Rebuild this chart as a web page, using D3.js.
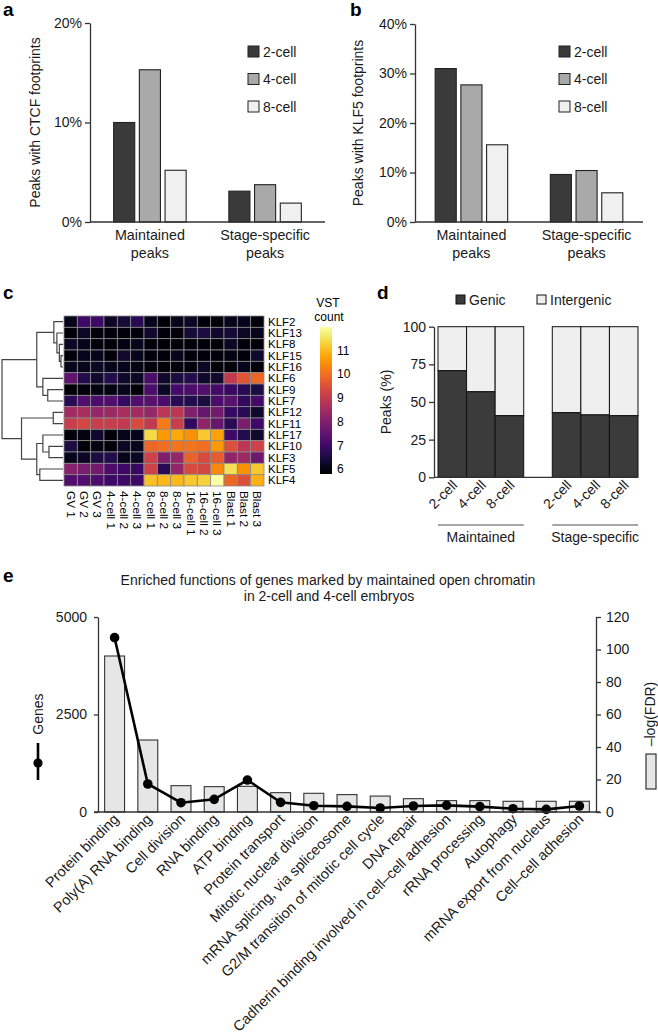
<!DOCTYPE html>
<html><head><meta charset="utf-8">
<script src="https://cdn.jsdelivr.net/npm/d3@7"></script>
<style>
html,body{margin:0;padding:0;background:#fff;}
svg{display:block;font-family:"Liberation Sans",Arial,Helvetica,sans-serif;}
</style></head>
<body>
<script>
// ---------------- DATA ----------------
const stages = ["2-cell", "4-cell", "8-cell"];
const peakGroups = ["Maintained peaks", "Stage-specific peaks"];
// panel a: % peaks with CTCF footprints (per group, per stage)
const ctcfMaintained = [10.0, 15.3, 5.2];
const ctcfStageSpecific = [3.1, 3.75, 1.9];
const ctcfTicks = [0, 10, 20];
// panel b: % peaks with KLF5 footprints
const klf5Maintained = [31.0, 27.7, 15.6];
const klf5StageSpecific = [9.6, 10.4, 5.9];
const klf5Ticks = [0, 10, 20, 30, 40];

// panel c: KLF expression heatmap (VST counts)
const klfGenes = ["KLF2","KLF13","KLF8","KLF15","KLF16","KLF6","KLF9","KLF7","KLF12","KLF11","KLF17","KLF10","KLF3","KLF5","KLF4"];
const heatSamples = ["GV 1","GV 2","GV 3","4-cell 1","4-cell 2","4-cell 3","8-cell 1","8-cell 2","8-cell 3","16-cell 1","16-cell 2","16-cell 3","Blast 1","Blast 2","Blast 3"];
const heatValues = [
  [6.1,7.0,7.0,6.2,6.4,6.7,6.1,5.9,6.1,6.2,5.9,5.9,6.1,6.1,5.9],
  [5.9,6.2,5.9,5.9,5.9,5.9,6.3,5.9,5.9,6.4,6.5,6.3,6.4,6.2,6.1],
  [6.2,6.1,5.9,5.9,6.0,6.1,5.9,5.9,5.9,5.9,5.9,5.9,6.2,5.9,5.9],
  [5.9,6.1,6.1,5.9,6.3,6.1,5.9,5.9,6.1,5.9,5.9,5.9,6.0,5.9,6.3],
  [6.1,6.1,6.2,6.1,6.1,6.0,5.9,5.9,5.9,5.9,6.2,5.9,5.9,6.1,5.9],
  [7.5,6.6,6.3,6.6,6.3,6.2,7.2,6.3,6.5,6.6,6.3,6.3,9.0,9.6,9.9],
  [5.9,5.9,6.0,6.0,6.1,5.9,7.2,6.2,7.1,7.2,7.3,7.1,6.9,6.7,6.5],
  [6.7,7.3,7.2,7.3,6.9,7.3,7.4,7.2,6.7,6.6,6.5,7.2,7.4,6.8,7.1],
  [8.5,8.6,8.3,8.4,8.6,8.5,8.3,8.9,8.9,8.0,7.6,7.8,6.9,6.7,6.3],
  [9.1,9.3,9.1,9.1,9.0,9.4,9.0,10.2,9.1,6.8,8.2,7.6,6.7,7.9,7.0],
  [5.9,6.0,6.3,5.9,6.1,6.1,11.4,10.6,10.8,10.5,11.2,10.7,7.0,6.6,6.3],
  [6.5,5.9,6.0,5.9,6.2,6.1,9.9,10.0,10.1,10.1,10.0,10.6,9.5,8.9,9.2],
  [6.1,6.2,6.5,6.6,6.1,6.2,9.2,8.0,8.3,9.8,9.4,9.7,8.2,8.4,7.7],
  [8.1,7.9,7.8,7.2,7.0,6.9,9.2,6.7,8.3,9.4,9.3,10.4,11.5,10.5,11.2],
  [7.3,7.3,7.2,7.0,7.0,7.0,11.1,11.0,11.0,11.2,11.3,12.0,9.9,9.5,10.9]
];
const vstDomain = [5.8, 12.0];
const vstTicks = [6, 7, 8, 9, 10, 11];
// dendrogram: [mergeHeight, left, right]
const klfDendrogram = [10,
  [4.3, [1.5, "KLF2", [1.0, "KLF13", [0.6, "KLF8", [0.33, "KLF15", "KLF16"]]]],
        [3.3, "KLF6", [2.5, "KLF9", "KLF7"]]],
  [6.8, [1.6, "KLF12", "KLF11"],
        [4.3, [3.3, "KLF17", [2.3, "KLF10", "KLF3"]], [3.8, "KLF5", "KLF4"]]]];

// panel d: genic vs intergenic (%)
const genicGroups = ["Maintained", "Stage-specific"];
const genicMaintained = [70.8, 56.8, 40.9];
const genicStageSpecific = [42.9, 41.4, 40.9];
const pctTicks = [0, 25, 50, 75, 100];

// panel e: enriched functions
const goTerms = ["Protein binding","Poly(A) RNA binding","Cell division","RNA binding","ATP binding","Protein transport","Mitotic nuclear division","mRNA splicing, via spliceosome","G2/M transition of mitotic cell cycle","DNA repair","Cadherin binding involved in cell\u2013cell adhesion","rRNA processing","Autophagy","mRNA export from nucleus","Cell\u2013cell adhesion"];
const goNegLogFDR = [96.0, 44.3, 16.2, 15.6, 15.8, 11.9, 11.5, 10.7, 9.8, 8.2, 7.0, 7.0, 6.6, 6.6, 6.6];
const goGenes = [4470, 718, 239, 325, 820, 248, 162, 145, 103, 154, 171, 137, 85, 68, 154];
const geneTicks = [0, 2500, 5000];
const fdrTicks = [0, 20, 40, 60, 80, 100, 120];

// ---------------- DRAW ----------------
const W = 658, H = 1035;
const svg = d3.select("body").append("svg").attr("width", W).attr("height", H);
const TXT = "#1a1a1a", AX = "#333";
const stageFill = d3.scaleOrdinal().domain(stages).range(["#3a3a3a", "#a9a9a9", "#f0f0f0"]);

function styleAxis(g, fs) {
  g.select(".domain").attr("stroke", AX).attr("stroke-width", 1.3);
  g.selectAll(".tick line").attr("stroke", AX).attr("stroke-width", 1.3);
  g.selectAll(".tick text").attr("fill", TXT).attr("font-size", fs).attr("font-family", "Liberation Sans, Arial, sans-serif");
}
function panelLabel(t, x, y) {
  svg.append("text").attr("x", x).attr("y", y).text(t).attr("font-size", 19).attr("font-weight", "bold").attr("fill", "#000");
}

function groupedBars(o) {
  const g = svg.append("g");
  const y = d3.scaleLinear().domain([0, o.max]).range([o.y0, o.y1]);
  const x0 = d3.scalePoint().domain(peakGroups).range([o.x0, o.x1]).padding(o.pad);
  const x1 = d3.scaleBand().domain(stages).range([-36.25, 36.25]).paddingInner(0.18);
  const rows = [o.a, o.b];
  peakGroups.forEach((grp, gi) => {
    stages.forEach((s, si) => {
      g.append("rect").attr("x", x0(grp) + x1(s)).attr("width", x1.bandwidth())
        .attr("y", y(rows[gi][si])).attr("height", y(0) - y(rows[gi][si]))
        .attr("fill", stageFill(s)).attr("stroke", "#222").attr("stroke-width", 1.1);
    });
    const words = grp.split(" ");
    g.append("text").attr("x", x0(grp)).attr("y", 240).attr("text-anchor", "middle").attr("font-size", 14.3).attr("fill", TXT).text(words[0]);
    g.append("text").attr("x", x0(grp)).attr("y", 258).attr("text-anchor", "middle").attr("font-size", 14.3).attr("fill", TXT).text(words[1]);
  });
  const ax = g.append("g").attr("transform", `translate(${o.x0},0)`)
    .call(d3.axisLeft(y).tickValues(o.ticks).tickFormat(d => d + "%").tickSize(5).tickPadding(3).tickSizeOuter(0));
  styleAxis(ax, 14);
  g.append("line").attr("x1", o.x0).attr("x2", o.x1).attr("y1", y(0)).attr("y2", y(0)).attr("stroke", AX).attr("stroke-width", 1.3);
  g.append("text").attr("transform", `translate(${o.lx},${(o.y0 + o.y1) / 2}) rotate(-90)`)
    .attr("text-anchor", "middle").attr("dominant-baseline", "central").attr("font-size", 14).attr("fill", TXT).text(o.label);
  stages.forEach((s, i) => {
    g.append("rect").attr("x", o.legX).attr("y", 46 + i * 27.5).attr("width", 11).attr("height", 11)
      .attr("fill", stageFill(s)).attr("stroke", "#222").attr("stroke-width", 1);
    g.append("text").attr("x", o.legX + 15).attr("y", 56.5 + i * 27.5).attr("font-size", 14).attr("fill", TXT).text(s);
  });
}

// a
panelLabel("a", 3, 16);
groupedBars({x0: 90, x1: 325, y0: 222, y1: 23, max: 20, pad: 0.52, a: ctcfMaintained, b: ctcfStageSpecific,
  ticks: ctcfTicks, label: "Peaks with CTCF footprints", lx: 35, legX: 248});
// b
panelLabel("b", 350, 16);
groupedBars({x0: 415, x1: 643, y0: 222, y1: 24, max: 40, pad: 0.49, a: klf5Maintained, b: klf5StageSpecific,
  ticks: klf5Ticks, label: "Peaks with KLF5 footprints", lx: 358, legX: 559});

// c heatmap
panelLabel("c", 3, 299);
{
  const g = svg.append("g");
  const hx = d3.scaleBand().domain(heatSamples).range([64, 264]);
  const hy = d3.scaleBand().domain(klfGenes).range([316, 486]);
  const col = d3.scaleSequential(d3.interpolateInferno).domain(vstDomain);
  klfGenes.forEach((gene, r) => {
    heatSamples.forEach((s, c) => {
      g.append("rect").attr("x", hx(s)).attr("y", hy(gene)).attr("width", hx.bandwidth()).attr("height", hy.bandwidth())
        .attr("fill", col(heatValues[r][c])).attr("stroke", "#8c8c8c").attr("stroke-width", 0.8);
    });
    g.append("text").attr("x", 268).attr("y", hy(gene) + hy.bandwidth() / 2).attr("dominant-baseline", "central")
      .attr("font-size", 11.5).attr("fill", "#000").text(gene);
  });
  heatSamples.forEach(s => {
    g.append("text").attr("transform", `translate(${hx(s) + hx.bandwidth() / 2},491) rotate(90)`)
      .attr("dominant-baseline", "central").attr("font-size", 11.8).attr("fill", "#000").text(s);
  });
  // dendrogram
  const hX = d3.scaleLinear().domain([0, 10]).range([63, 2]);
  const dg = g.append("g").attr("stroke", "#444").attr("stroke-width", 1.2).attr("fill", "none");
  function lay(node) {
    if (typeof node === "string") return {y: hy(node) + hy.bandwidth() / 2, x: hX(0)};
    const [h, l, r] = node;
    const a = lay(l), b = lay(r), x = hX(h);
    dg.append("path").attr("d", `M${a.x},${a.y}H${x}V${b.y}H${b.x}`);
    return {x, y: (a.y + b.y) / 2};
  }
  lay(klfDendrogram);
  // colorbar
  const cb = d3.scaleLinear().domain(vstDomain).range([474, 327]);
  const grad = svg.append("defs").append("linearGradient").attr("id", "inf").attr("x1", 0).attr("y1", 1).attr("x2", 0).attr("y2", 0);
  d3.range(0, 1.0001, 0.05).forEach(t => grad.append("stop").attr("offset", t).attr("stop-color", d3.interpolateInferno(t)));
  g.append("rect").attr("x", 320).attr("y", 327).attr("width", 12).attr("height", 147).attr("fill", "url(#inf)");
  vstTicks.forEach(v => g.append("text").attr("x", 337).attr("y", cb(v)).attr("dominant-baseline", "central")
    .attr("font-size", 12).attr("fill", "#000").text(v));
  g.append("text").attr("x", 328).attr("y", 307).attr("text-anchor", "middle").attr("font-size", 12).attr("fill", "#000").text("VST");
  g.append("text").attr("x", 329).attr("y", 321).attr("text-anchor", "middle").attr("font-size", 12).attr("fill", "#000").text("count");
}

// d stacked
panelLabel("d", 377, 299);
{
  const g = svg.append("g");
  const keys = [];
  genicGroups.forEach((grp, gi) => { stages.forEach(s => keys.push(grp + "|" + s)); if (gi === 0) keys.push("spacer"); });
  const xd = d3.scaleBand().domain(keys).range([438, 638]);
  const yd = d3.scaleLinear().domain([0, 100]).range([477.3, 326.7]);
  const vals = [genicMaintained, genicStageSpecific];
  genicGroups.forEach((grp, gi) => {
    stages.forEach((s, si) => {
      const k = grp + "|" + s, v = vals[gi][si];
      g.append("rect").attr("x", xd(k)).attr("width", xd.bandwidth()).attr("y", yd(100)).attr("height", yd(v) - yd(100))
        .attr("fill", "#efefef").attr("stroke", "#111").attr("stroke-width", 1);
      g.append("rect").attr("x", xd(k)).attr("width", xd.bandwidth()).attr("y", yd(v)).attr("height", yd(0) - yd(v))
        .attr("fill", "#3b3b3b").attr("stroke", "#111").attr("stroke-width", 1);
      g.append("text").attr("transform", `translate(${xd(k) + xd.bandwidth() / 2 + 6},486) rotate(-45)`)
        .attr("text-anchor", "end").attr("font-size", 14).attr("fill", TXT).text(s);
    });
    const xa = xd(grp + "|" + stages[0]), xb = xd(grp + "|" + stages[2]) + xd.bandwidth();
    g.append("line").attr("x1", xa).attr("x2", xb).attr("y1", 525).attr("y2", 525).attr("stroke", "#888").attr("stroke-width", 1.5);
    g.append("text").attr("x", (xa + xb) / 2).attr("y", 542).attr("text-anchor", "middle").attr("font-size", 14).attr("fill", TXT).text(grp);
  });
  const ax = g.append("g").attr("transform", "translate(434,0)")
    .call(d3.axisLeft(yd).tickValues(pctTicks).tickSize(5).tickPadding(3).tickSizeOuter(0));
  styleAxis(ax, 14);
  g.append("line").attr("x1", 434).attr("x2", 638).attr("y1", yd(0)).attr("y2", yd(0)).attr("stroke", AX).attr("stroke-width", 1.3);
  g.append("text").attr("transform", `translate(386,${(yd(0) + yd(100)) / 2}) rotate(-90)`)
    .attr("text-anchor", "middle").attr("dominant-baseline", "central").attr("font-size", 14).attr("fill", TXT).text("Peaks (%)");
  g.append("rect").attr("x", 456).attr("y", 295).attr("width", 9).attr("height", 9).attr("fill", "#3b3b3b").attr("stroke", "#111");
  g.append("text").attr("x", 469).attr("y", 304.5).attr("font-size", 14).attr("fill", TXT).text("Genic");
  g.append("rect").attr("x", 537).attr("y", 295).attr("width", 9).attr("height", 9).attr("fill", "#efefef").attr("stroke", "#111");
  g.append("text").attr("x", 550).attr("y", 304.5).attr("font-size", 14).attr("fill", TXT).text("Intergenic");
}

// e
panelLabel("e", 3, 582);
{
  const g = svg.append("g");
  g.append("text").attr("x", 328).attr("y", 585).attr("text-anchor", "middle").attr("font-size", 14).attr("fill", TXT)
    .text("Enriched functions of genes marked by maintained open chromatin");
  g.append("text").attr("x", 329).attr("y", 601).attr("text-anchor", "middle").attr("font-size", 14).attr("fill", TXT)
    .text("in 2-cell and 4-cell embryos");
  const xe = d3.scaleBand().domain(goTerms).range([98, 596]).paddingInner(0.4).paddingOuter(0.2);
  const yR = d3.scaleLinear().domain([0, 120]).range([812, 617]);
  const yL = d3.scaleLinear().domain([0, 5000]).range([812, 617]);
  goTerms.forEach((t, i) => {
    g.append("rect").attr("x", xe(t)).attr("width", xe.bandwidth()).attr("y", yR(goNegLogFDR[i]))
      .attr("height", yR(0) - yR(goNegLogFDR[i])).attr("fill", "#e6e6e6").attr("stroke", "#333").attr("stroke-width", 1.1);
    g.append("text").attr("transform", `translate(${xe(t) + xe.bandwidth() / 2 + 5},820) rotate(-45)`)
      .attr("text-anchor", "end").attr("font-size", 14.5).attr("fill", TXT).text(t);
  });
  const line = d3.line().x((d, i) => xe(goTerms[i]) + xe.bandwidth() / 2).y(d => yL(d));
  g.append("path").datum(goGenes).attr("d", line).attr("fill", "none").attr("stroke", "#000").attr("stroke-width", 2.6);
  goGenes.forEach((v, i) => g.append("circle").attr("cx", xe(goTerms[i]) + xe.bandwidth() / 2).attr("cy", yL(v)).attr("r", 4.8).attr("fill", "#000"));
  const axL = g.append("g").attr("transform", "translate(98,0)")
    .call(d3.axisLeft(yL).tickValues(geneTicks).tickFormat(d3.format("d")).tickSize(4).tickPadding(7).tickSizeOuter(0));
  styleAxis(axL, 14);
  const axR = g.append("g").attr("transform", "translate(596,0)")
    .call(d3.axisRight(yR).tickValues(fdrTicks).tickFormat(d3.format("d")).tickSize(5).tickPadding(5).tickSizeOuter(0));
  styleAxis(axR, 14);
  g.append("line").attr("x1", 94).attr("x2", 600).attr("y1", 812).attr("y2", 812).attr("stroke", AX).attr("stroke-width", 1.3);
  // legends
  g.append("text").attr("transform", "translate(38,714) rotate(-90)").attr("text-anchor", "middle")
    .attr("dominant-baseline", "central").attr("font-size", 14).attr("fill", TXT).text("Genes");
  g.append("line").attr("x1", 38).attr("x2", 38).attr("y1", 743).attr("y2", 780).attr("stroke", "#000").attr("stroke-width", 2.6);
  g.append("circle").attr("cx", 38).attr("cy", 763).attr("r", 4.6).attr("fill", "#000");
  g.append("text").attr("transform", "translate(650,714) rotate(-90)").attr("text-anchor", "middle")
    .attr("dominant-baseline", "central").attr("font-size", 14).attr("fill", TXT).text("\u2013log(FDR)");
  g.append("rect").attr("x", 646).attr("y", 754).attr("width", 10).attr("height", 35).attr("fill", "#e6e6e6").attr("stroke", "#222").attr("stroke-width", 1.1);
}
</script>
</body></html>
